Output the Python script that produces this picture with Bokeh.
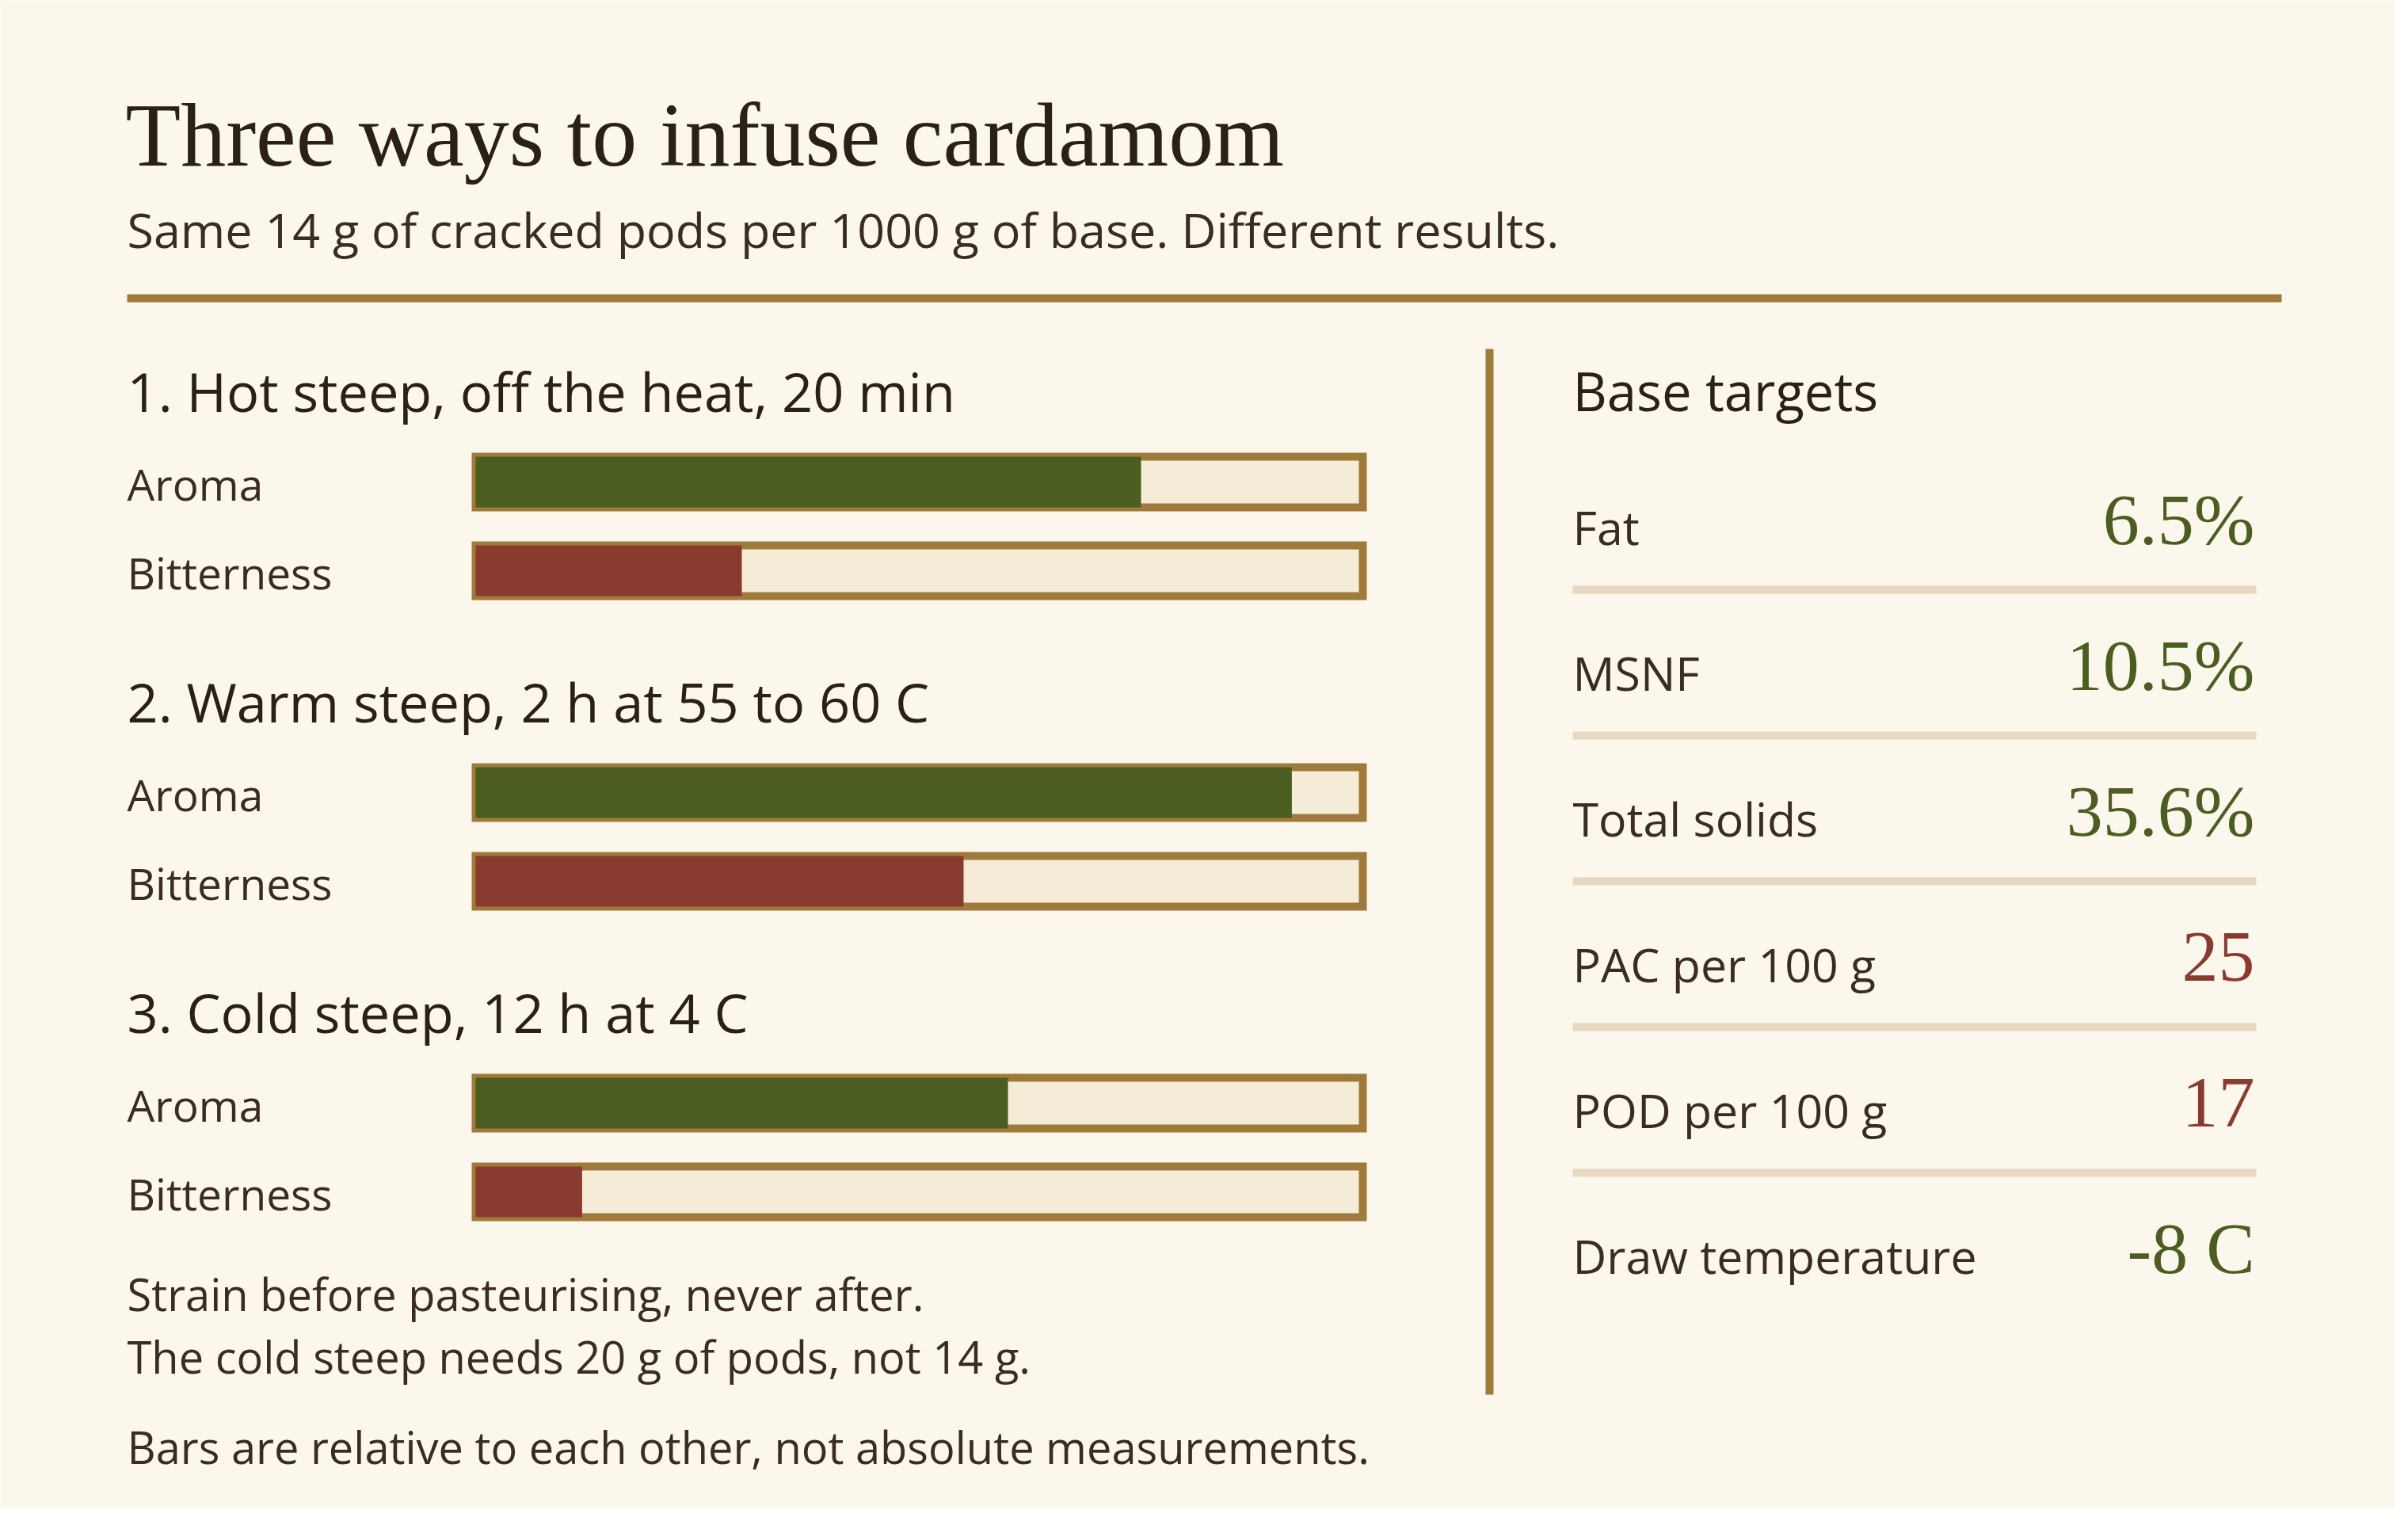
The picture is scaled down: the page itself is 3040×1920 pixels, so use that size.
from bokeh.plotting import figure
from bokeh.models import Range1d, ColumnDataSource
from bokeh.core.properties import value
from bokeh.embed import file_html
from bokeh.resources import INLINE

# ---------------- data ----------------
title = "Three ways to infuse cardamom"
subtitle = "Same 14 g of cracked pods per 1000 g of base. Different results."
methods = ["1. Hot steep, off the heat, 20 min",
           "2. Warm steep, 2 h at 55 to 60 C",
           "3. Cold steep, 12 h at 4 C"]
metrics = ["Aroma", "Bitterness"]
aroma = [0.75, 0.92, 0.60]
bitterness = [0.30, 0.55, 0.12]
notes = ["Strain before pasteurising, never after.",
         "The cold steep needs 20 g of pods, not 14 g."]
footnote = "Bars are relative to each other, not absolute measurements."
panel_title = "Base targets"
target_labels = ["Fat", "MSNF", "Total solids", "PAC per 100 g", "POD per 100 g", "Draw temperature"]
target_values = ["6.5%", "10.5%", "35.6%", "25", "17", "-8 C"]
target_kind = ["ok", "ok", "ok", "sugar", "sugar", "ok"]

# ---------------- style ----------------
BG = "#FBF7EC"
INK = "#2B2015"
TEXT = "#3A2C1E"
BROWN = "#A07A3B"
TRACK = "#F4ECD6"
GREEN = "#4B5D20"
RED = "#8A3B2F"
SEP = "#E7D8BF"
SANS = value("Open Sans")
SERIF = value("Liberation Serif")

W, H = 3024, 1904
LEFT = 160
TRACK_X0, TRACK_W = 600, 1120
BAR_H = 64
GROUP_Y0, GROUP_STEP, ROW_STEP = 608, 392, 112
PANEL_X, PANEL_R = 1985, 2846
ROW_Y0, ROW_STEP_R = 688, 184
K = 0.39  # baseline correction factor for the text renderer


def bl(y, size):
    return y - K * size


p = figure(width=W, height=H, x_range=Range1d(0, W), y_range=Range1d(H, 0),
           min_border=0, toolbar_location=None, output_backend="svg",
           x_axis_location=None, y_axis_location=None, title=None,
           background_fill_color=BG, border_fill_color=BG, outline_line_color=None)
p.grid.visible = False

bar_start = -TRACK_X0 / TRACK_W
p.extra_x_ranges = {"bar": Range1d(bar_start, bar_start + W / TRACK_W)}

# ---------------- header ----------------
p.text(x=[LEFT - 2], y=[bl(214, 114)], text=[title], text_font=SERIF, text_font_size="114px",
       text_color=INK, text_baseline="alphabetic")
p.text(x=[LEFT], y=[bl(313, 61)], text=[subtitle], text_font=SANS, text_font_size="61px",
       text_color=TEXT, text_baseline="alphabetic")
p.segment(x0=[LEFT], y0=[376], x1=[2880], y1=[376], line_width=10, line_color=BROWN)

# ---------------- bars ----------------
ys, vals, cols, labs = [], [], [], []
for i in range(len(methods)):
    for j, (m, series, c) in enumerate(zip(metrics, [aroma, bitterness], [GREEN, RED])):
        ys.append(GROUP_Y0 + i * GROUP_STEP + j * ROW_STEP)
        vals.append(series[i])
        cols.append(c)
        labs.append(m)
src = ColumnDataSource(dict(y=ys, v=vals, c=cols, lab=labs, lx=[LEFT] * len(ys),
                            ly=[bl(y + 23, 55) for y in ys]))
p.hbar(y="y", left=0, right=1, height=BAR_H, source=src, fill_color=TRACK,
       line_color=BROWN, line_width=10, line_join="miter", x_range_name="bar")
p.hbar(y="y", left=0, right="v", height=BAR_H, source=src, fill_color="c",
       line_color=None, x_range_name="bar")
p.text(x="lx", y="ly", text="lab", source=src, text_font=SANS, text_font_size="55px",
       text_color=TEXT, text_baseline="alphabetic")

head_y = [bl(GROUP_Y0 - 88 + i * GROUP_STEP, 68.5) for i in range(len(methods))]
p.text(x=[LEFT] * len(methods), y=head_y, text=methods, text_font=SANS,
       text_font_size="68.5px", text_color=INK, text_baseline="alphabetic")

# ---------------- notes ----------------
p.text(x=[LEFT] * len(notes), y=[bl(1654, 56), bl(1733, 56)], text=notes, text_font=SANS,
       text_font_size="56px", text_color=TEXT, text_baseline="alphabetic")
p.text(x=[LEFT], y=[bl(1847, 56)], text=[footnote], text_font=SANS,
       text_font_size="56px", text_color=TEXT, text_baseline="alphabetic")

# ---------------- right panel ----------------
p.segment(x0=[1880], y0=[440], x1=[1880], y1=[1760], line_width=10, line_color=BROWN)
p.text(x=[PANEL_X], y=[bl(519, 67)], text=[panel_title], text_font=SANS, text_font_size="67px",
       text_color=INK, text_baseline="alphabetic")
n = len(target_labels)
row_y = [ROW_Y0 + k * ROW_STEP_R for k in range(n)]
vcol = [GREEN if k == "ok" else RED for k in target_kind]
rsrc = ColumnDataSource(dict(x=[PANEL_X] * n, xr=[PANEL_R] * n,
                             ly=[bl(y, 59) for y in row_y], vy=[bl(y + 3, 92) for y in row_y],
                             lab=target_labels, val=target_values, c=vcol))
p.text(x="x", y="ly", text="lab", source=rsrc, text_font=SANS, text_font_size="59px",
       text_color=TEXT, text_baseline="alphabetic")
p.text(x="xr", y="vy", text="val", source=rsrc, text_font=SERIF, text_font_size="92px",
       text_color="c", text_baseline="alphabetic", text_align="right")
sep_y = [y + 56 for y in row_y[:-1]]
p.segment(x0=[PANEL_X] * (n - 1), y0=sep_y, x1=[2848] * (n - 1), y1=sep_y,
          line_width=10, line_color=SEP)

open("out.html", "w").write(file_html(p, INLINE))
